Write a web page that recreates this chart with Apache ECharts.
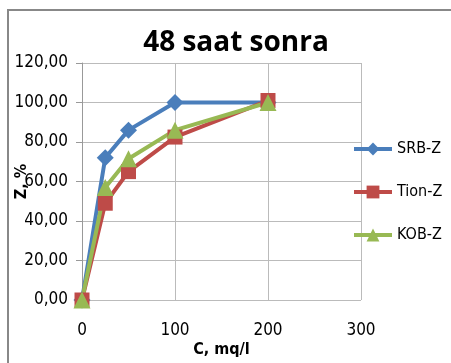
<!DOCTYPE html>
<html><head><meta charset="utf-8">
<script src="https://cdn.jsdelivr.net/npm/echarts@6/dist/echarts.min.js"></script>
<style>html,body{margin:0;padding:0;background:#fff}#c{width:451px;height:363px}</style>
</head><body><div id="c"></div>
<script>
const xValues = [0, 25, 50, 100, 200];
const srbZ = [0, 72, 86, 100, 100];
const tionZ = [0, 49, 65, 82.5, 101];
const kobZ = [0, 57, 71.5, 86, 100];
const seriesNames = ['SRB-Z', 'Tion-Z', 'KOB-Z'];
const titleText = '48 saat sonra';
const xName = 'C, mq/l';
const yName = 'Z, %';

const font = '"DejaVu Sans Condensed", "Open Sans", sans-serif';
const tfont = '"Open Sans", sans-serif';
const pairs = arr => xValues.map((x, i) => [x, arr[i]]);
const chart = echarts.init(document.getElementById('c'));
const mk = (name, data, color, symbol, size) => ({
  name, type: 'line', data: pairs(data), symbol, symbolSize: size,
  lineStyle: { color, width: 4 }, itemStyle: { color }, animation: false
});
chart.setOption({
  animation: false,
  title: { text: titleText, left: 231, top: 24, textAlign: 'center',
    textStyle: { fontFamily: tfont, fontWeight: 'bold', fontSize: 28, color: '#000' } },
  graphic: [{ type: 'rect', shape: { x: 8, y: 10, width: 470, height: 380 },
    style: { fill: 'none', stroke: '#888', lineWidth: 2 } }],
  legend: { orient: 'vertical', left: 347, top: 136, itemGap: 27, itemWidth: 38, itemHeight: 16,
    lineStyle: { width: 4 },
    textStyle: { fontFamily: font, fontSize: 16, color: '#000' },
    data: seriesNames },
  grid: { left: 82, right: 90, top: 63, bottom: 63, outerBoundsMode: 'none', containLabel: false },
  xAxis: { type: 'value', min: 0, max: 300, interval: 100,
    name: xName, nameLocation: 'middle', nameGap: 42, nameMoveOverlap: false,
    nameTextStyle: { fontFamily: font, fontWeight: 'bold', fontSize: 16, color: '#000' },
    axisLine: { show: false }, axisTick: { show: false },
    axisLabel: { fontFamily: font, fontSize: 17, color: '#000', margin: 22 },
    splitLine: { show: true, lineStyle: { color: '#bbb', width: 1 } } },
  yAxis: { type: 'value', min: 0, max: 120, interval: 20,
    name: yName, nameLocation: 'middle', nameGap: 52, nameRotate: 90, nameMoveOverlap: false,
    nameTextStyle: { fontFamily: font, fontWeight: 'bold', fontSize: 16, color: '#000' },
    axisLine: { show: true, lineStyle: { color: '#999', width: 1 } },
    axisTick: { show: true, length: 6, lineStyle: { color: '#999' } },
    axisLabel: { fontFamily: font, fontSize: 17, color: '#000', margin: 14,
      formatter: v => v.toFixed(2).replace('.', ',') },
    splitLine: { show: true, lineStyle: { color: '#bbb', width: 1 } } },
  series: [
    mk(seriesNames[0], srbZ, '#4a7ebb', 'diamond', 17),
    mk(seriesNames[1], tionZ, '#be4b48', 'rect', 15),
    mk(seriesNames[2], kobZ, '#98b954', 'triangle', 17)
  ]
});
</script></body></html>
